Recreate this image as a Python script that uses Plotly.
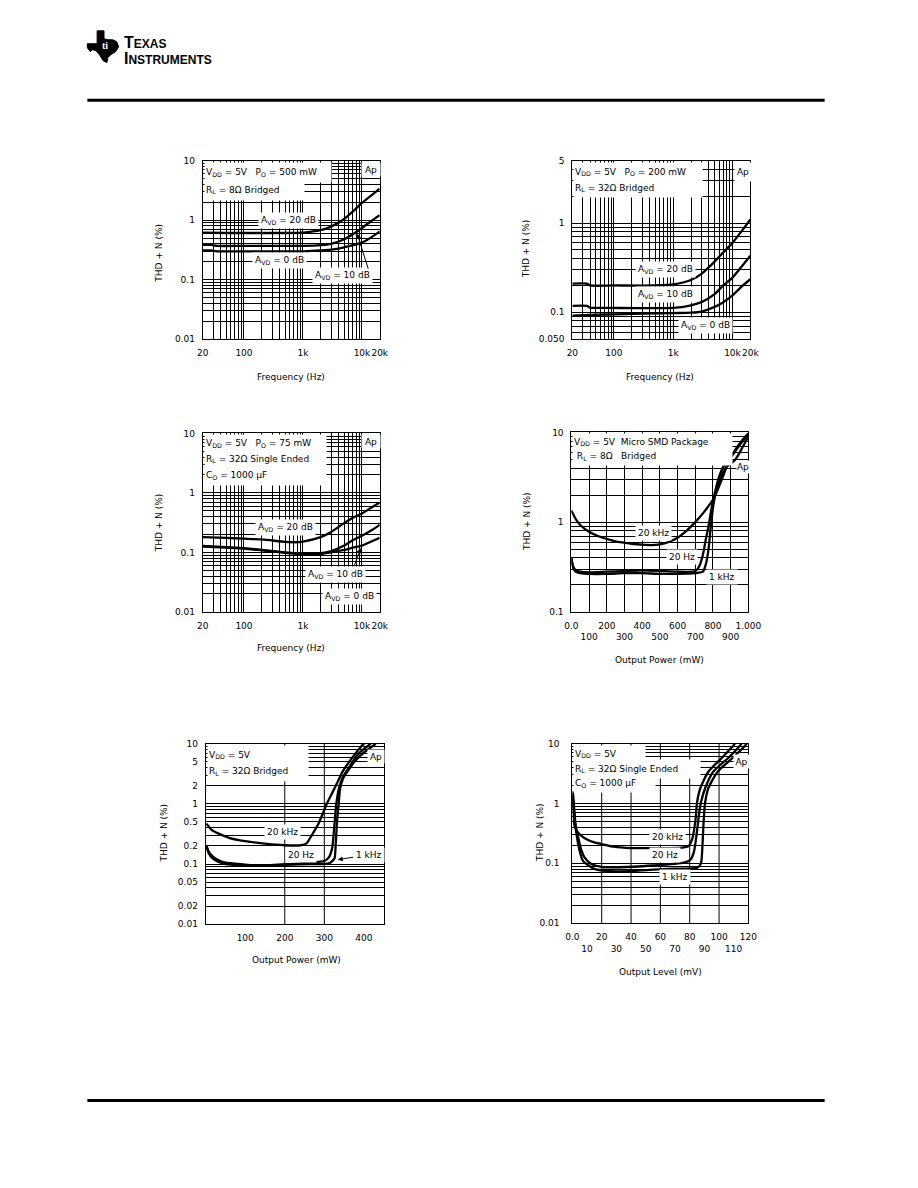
import numpy as np
import plotly.graph_objects as go

# page is 918x1188; the browser adds an 8px body margin, so the figure is sized to fit inside it
PAGE_OFF = 8
W, H = 902, 1170
FONT = "DejaVu Sans"


def px(x):
    return (x - PAGE_OFF) / W


def py(y):
    return 1 - (y - PAGE_OFF) / H


lg = np.log10

# ---------------- data ----------------
# Panel 1: THD+N vs Frequency, VDD=5V, PO=500mW, RL=8 ohm bridged
p1_freq_20db = [20, 50, 100, 200, 500, 1000, 2000, 3000, 5000, 7000, 10000, 15000, 20000]
p1_thd_20db = [0.62, 0.61, 0.61, 0.61, 0.61, 0.62, 0.68, 0.78, 1.05, 1.4, 1.95, 2.7, 3.4]
p1_freq_10db = [20, 28, 35, 100, 1000, 2000, 3000, 5000, 7000, 10000, 15000, 20000]
p1_thd_10db = [0.385, 0.385, 0.37, 0.37, 0.37, 0.38, 0.40, 0.48, 0.58, 0.74, 1.0, 1.22]
p1_freq_0db = [20, 28, 35, 100, 1000, 2000, 3000, 5000, 7000, 10000, 15000, 20000]
p1_thd_0db = [0.31, 0.31, 0.30, 0.30, 0.30, 0.31, 0.32, 0.35, 0.38, 0.42, 0.53, 0.65]

# Panel 2: VDD=5V, PO=200mW, RL=32 ohm bridged
p2_freq_20db = [20, 35, 40, 100, 500, 1000, 2000, 3000, 5000, 7000, 10000, 15000, 20000]
p2_thd_20db = [0.21, 0.21, 0.20, 0.20, 0.20, 0.205, 0.23, 0.27, 0.37, 0.47, 0.6, 0.85, 1.1]
p2_freq_10db = [20, 35, 40, 100, 1000, 2000, 3000, 5000, 7000, 10000, 15000, 20000]
p2_thd_10db = [0.118, 0.118, 0.113, 0.112, 0.112, 0.12, 0.13, 0.16, 0.2, 0.245, 0.34, 0.43]
p2_freq_0db = [20, 50, 100, 1000, 2000, 3000, 5000, 7000, 10000, 15000, 20000]
p2_thd_0db = [0.092, 0.094, 0.095, 0.098, 0.099, 0.102, 0.115, 0.13, 0.155, 0.2, 0.235]

# Panel 3: VDD=5V, PO=75mW, RL=32 ohm single ended, CO=1000uF
p3_freq_20db = [20, 50, 100, 200, 500, 700, 1000, 2000, 3000, 5000, 7000, 10000, 15000, 20000]
p3_thd_20db = [0.18, 0.175, 0.17, 0.165, 0.15, 0.148, 0.152, 0.18, 0.22, 0.31, 0.38, 0.45, 0.58, 0.69]
p3_freq_10db = [20, 50, 100, 200, 500, 1000, 2000, 3000, 5000, 7000, 10000, 15000, 20000]
p3_thd_10db = [0.128, 0.122, 0.118, 0.11, 0.1, 0.095, 0.097, 0.105, 0.13, 0.16, 0.19, 0.24, 0.29]
p3_freq_0db = [20, 50, 100, 200, 500, 1000, 2000, 3000, 5000, 7000, 10000, 15000, 20000]
p3_thd_0db = [0.125, 0.12, 0.116, 0.108, 0.098, 0.092, 0.094, 0.1, 0.11, 0.12, 0.13, 0.155, 0.175]

# Panel 4: THD+N vs Output Power, VDD=5V, micro SMD, RL=8 ohm bridged
p4_pow_20khz = [0, 25, 50, 100, 150, 200, 250, 300, 350, 400, 450, 500, 550, 600, 650, 700, 750, 807, 850, 890, 930, 970, 1000]
p4_thd_20khz = [1.35, 1.08, 0.93, 0.78, 0.7, 0.65, 0.61, 0.59, 0.57, 0.56, 0.555, 0.565, 0.6, 0.67, 0.8, 1.0, 1.3, 1.88, 3.0, 4.8, 6.6, 8.4, 9.8]
p4_pow_20hz = [0, 10, 25, 50, 100, 200, 300, 400, 500, 600, 680, 706, 725, 745, 760, 775, 790, 805, 830, 860, 908, 950, 990, 1000]
p4_thd_20hz = [0.4, 0.32, 0.29, 0.28, 0.275, 0.28, 0.285, 0.29, 0.285, 0.28, 0.28, 0.29, 0.33, 0.45, 0.65, 0.9, 1.35, 1.9, 3.0, 4.2, 5.5, 7.2, 9.0, 9.6]
p4_pow_1khz = [0, 10, 25, 50, 100, 200, 300, 400, 500, 600, 700, 743, 760, 775, 788, 800, 815, 840, 870, 927, 970, 1000]
p4_thd_1khz = [0.39, 0.31, 0.28, 0.27, 0.265, 0.265, 0.27, 0.27, 0.265, 0.265, 0.27, 0.28, 0.34, 0.5, 0.9, 1.45, 2.1, 3.0, 4.0, 5.0, 7.0, 9.0]

# Panel 5: VDD=5V, RL=32 ohm bridged
p5_pow_20khz = [2, 15, 33, 61, 100, 144, 200, 240, 255, 268, 284, 295, 305, 316, 326, 336, 346, 360, 375, 388, 400, 405]
p5_thd_20khz = [0.47, 0.37, 0.32, 0.27, 0.24, 0.22, 0.205, 0.205, 0.22, 0.30, 0.45, 0.66, 0.96, 1.35, 1.81, 2.5, 3.4, 4.7, 6.4, 8.2, 10, 10.5]
p5_pow_20hz = [2, 8, 17, 30, 50, 99, 132, 198, 240, 281, 300, 312, 320, 325, 330, 337, 346, 355, 368, 383, 400, 412, 418]
p5_thd_20hz = [0.2, 0.16, 0.135, 0.118, 0.105, 0.098, 0.094, 0.099, 0.102, 0.108, 0.112, 0.13, 0.186, 0.4, 0.96, 1.81, 2.7, 3.4, 4.6, 6.4, 8.2, 9.4, 10.2]
p5_pow_1khz = [2, 8, 17, 30, 50, 99, 132, 198, 240, 281, 297, 314, 322, 326, 330, 333, 336, 340, 348, 358, 375, 392, 410, 425, 430]
p5_thd_1khz = [0.2, 0.15, 0.125, 0.11, 0.1, 0.095, 0.093, 0.097, 0.099, 0.1, 0.1, 0.104, 0.115, 0.125, 0.3, 0.6, 0.96, 1.81, 2.7, 3.4, 4.9, 6.4, 8.0, 9.4, 10.2]

# Panel 6: VDD=5V, RL=32 ohm single ended, CO=1000uF
p6_lev_20khz = [0.3, 1.5, 3, 6, 10, 15, 20, 28, 40, 54, 67, 76, 79.5, 82, 84, 85, 87.2, 92.7, 102.5, 110, 111]
p6_thd_20khz = [1.3, 0.42, 0.35, 0.29, 0.25, 0.224, 0.21, 0.19, 0.18, 0.18, 0.18, 0.185, 0.196, 0.27, 0.55, 1.03, 1.8, 3.4, 6.0, 9.4, 10.2]
p6_lev_20hz = [0.3, 2, 4, 6, 8.3, 12.7, 21, 32, 54, 76, 80.6, 83, 85, 86.5, 87.6, 90.5, 96, 107, 114.5, 115.5]
p6_thd_20hz = [1.4, 0.45, 0.27, 0.17, 0.126, 0.098, 0.086, 0.086, 0.092, 0.103, 0.115, 0.16, 0.35, 0.7, 1.03, 1.8, 3.4, 6.0, 9.4, 10.2]
p6_lev_1khz = [0.3, 2.8, 5, 7.2, 15, 26, 43, 65, 85, 87.6, 88.7, 89.5, 90.5, 92.7, 99, 110, 118, 119]
p6_thd_1khz = [1.6, 0.31, 0.16, 0.11, 0.081, 0.074, 0.075, 0.081, 0.084, 0.098, 0.2, 0.5, 1.03, 1.8, 3.4, 6.0, 9.4, 10.2]

# tick labels
freq_labels = {20: "20", 100: "100", 1000: "1k", 10000: "10k", 20000: "20k"}
thd_labels_a = {0.01: "0.01", 0.1: "0.1", 1: "1", 10: "10"}
thd_labels_b = {0.05: "0.050", 0.1: "0.1", 1: "1", 5: "5"}
thd_labels_c = {0.1: "0.1", 1: "1", 10: "10"}
thd_labels_d = {0.01: "0.01", 0.02: "0.02", 0.05: "0.05", 0.1: "0.1", 0.2: "0.2",
                0.5: "0.5", 1: "1", 2: "2", 5: "5", 10: "10"}
p4_ticks = [0, 100, 200, 300, 400, 500, 600, 700, 800, 900, 1000]
p4_ticktext = ["0.0", "<br>100", "200", "<br>300", "400", "<br>500", "600", "<br>700", "800", "<br>900", "1.000"]
p5_ticks = [100, 200, 300, 400]
p5_ticktext = ["100", "200", "300", "400"]
p5_grid = [200, 300]
p6_ticks = [0, 10, 20, 30, 40, 50, 60, 70, 80, 90, 100, 110, 120]
p6_ticktext = ["0.0", "<br>10", "20", "<br>30", "40", "<br>50", "60", "<br>70", "80", "<br>90", "100", "<br>110", "120"]
p6_grid = [20, 40, 60, 80, 100]


def log_grid(start, stop):
    vals = []
    for e in range(-3, 6):
        for k in range(1, 10):
            v = round(k * 10 ** e, 6)
            if start * 0.9999 <= v <= stop * 1.0001:
                vals.append(v)
    return vals


def log_ticks(start, stop, labels):
    vals = log_grid(start, stop)
    lab = {round(k, 6): t for k, t in labels.items()}
    return vals, [lab.get(v, "") for v in vals]


# panel plot areas in page pixels: (x0, x1, y0, y1)
areas = {
    1: (200, 381, 157, 337),
    2: (578, 760, 157, 337),
    3: (200, 381, 432, 612),
    4: (577, 758, 431, 612),
    5: (203, 385, 745, 927),
    6: (578, 758, 745, 926),
}

fig = go.Figure()

curve = dict(color="black", width=2.3, shape="spline", smoothing=0.6)
series = {
    1: [(p1_freq_20db, p1_thd_20db), (p1_freq_10db, p1_thd_10db), (p1_freq_0db, p1_thd_0db)],
    2: [(p2_freq_20db, p2_thd_20db), (p2_freq_10db, p2_thd_10db), (p2_freq_0db, p2_thd_0db)],
    3: [(p3_freq_20db, p3_thd_20db), (p3_freq_10db, p3_thd_10db), (p3_freq_0db, p3_thd_0db)],
    4: [(p4_pow_20khz, p4_thd_20khz), (p4_pow_20hz, p4_thd_20hz), (p4_pow_1khz, p4_thd_1khz)],
    5: [(p5_pow_20khz, p5_thd_20khz), (p5_pow_20hz, p5_thd_20hz), (p5_pow_1khz, p5_thd_1khz)],
    6: [(p6_lev_20khz, p6_thd_20khz), (p6_lev_20hz, p6_thd_20hz), (p6_lev_1khz, p6_thd_1khz)],
}
for i, lst in series.items():
    for xs, ys in lst:
        fig.add_trace(go.Scatter(x=xs, y=ys, mode="lines", line=curve,
                                 xaxis="x" if i == 1 else f"x{i}",
                                 yaxis="y" if i == 1 else f"y{i}",
                                 hoverinfo="skip"))

tickfont = dict(family=FONT, size=9, color="black")


def base_axis():
    return dict(showline=True, mirror=True, linecolor="black", linewidth=1,
                ticks="", showgrid=True, gridcolor="black", gridwidth=1,
                zeroline=False, tickfont=tickfont, fixedrange=True)


layout = {}
for i, (x0, x1, y0, y1) in areas.items():
    xk = "xaxis" if i == 1 else f"xaxis{i}"
    yk = "yaxis" if i == 1 else f"yaxis{i}"
    xa = base_axis()
    ya = base_axis()
    xa.update(domain=[px(x0), px(x1)], anchor="y" if i == 1 else f"y{i}", ticklabelstandoff=5)
    ya.update(domain=[py(y1), py(y0)], anchor="x" if i == 1 else f"x{i}", ticklabelstandoff=5)
    if i in (1, 2, 3):
        tv, tt = log_ticks(20, 20000, freq_labels)
        xa.update(type="log", range=[lg(20), lg(20000)], tickvals=tv, ticktext=tt, tickangle=0)
    if i in (1, 3):
        tv, tt = log_ticks(0.01, 10, thd_labels_a)
        ya.update(type="log", range=[-2, 1], tickvals=tv, ticktext=tt)
    if i == 2:
        tv, tt = log_ticks(0.05, 5, thd_labels_b)
        ya.update(type="log", range=[lg(0.05), lg(5)], tickvals=tv, ticktext=tt)
    if i == 4:
        xa.update(range=[0, 1000], tickvals=p4_ticks, ticktext=p4_ticktext, tickangle=0)
        tv, tt = log_ticks(0.1, 10, thd_labels_c)
        ya.update(type="log", range=[-1, 1], tickvals=tv, ticktext=tt)
    if i == 5:
        xa.update(range=[0, 450], tickvals=p5_ticks, ticktext=p5_ticktext, showgrid=False, tickangle=0)
        tv, tt = log_ticks(0.01, 10, thd_labels_d)
        ya.update(type="log", range=[-2, 1], tickvals=tv, ticktext=tt)
    if i == 6:
        xa.update(range=[0, 120], tickvals=p6_ticks, ticktext=p6_ticktext, showgrid=False, tickangle=0)
        tv, tt = log_ticks(0.01, 10, thd_labels_a)
        ya.update(type="log", range=[-2, 1], tickvals=tv, ticktext=tt, ticklabelstandoff=10)
    layout[xk] = xa
    layout[yk] = ya

shapes = []
for g in p5_grid:
    shapes.append(dict(type="line", xref="x5", yref="y5 domain", x0=g, x1=g, y0=0, y1=1,
                       line=dict(color="black", width=1), layer="below"))
for g in p6_grid:
    shapes.append(dict(type="line", xref="x6", yref="y6 domain", x0=g, x1=g, y0=0, y1=1,
                       line=dict(color="black", width=1), layer="below"))

# header / footer rules
shapes.append(dict(type="line", xref="paper", yref="paper", x0=px(82), x1=px(836), y0=py(96), y1=py(96),
                   line=dict(color="black", width=3)))
shapes.append(dict(type="line", xref="paper", yref="paper", x0=px(82), x1=px(836), y0=py(1105), y1=py(1105),
                   line=dict(color="black", width=3)))

# TI logo outline (decorative)
logo_pts = [(92, 26), (99, 26), (99, 34), (103, 35), (108, 35), (112, 37), (114, 42), (111, 47),
            (106, 50), (103, 53), (102, 58), (98, 56), (95, 51), (91, 46), (87, 45), (85, 47),
            (82, 43), (82, 39), (92, 39)]
path = "M " + " L ".join(f"{px(a):.5f},{py(b):.5f}" for a, b in logo_pts) + " Z"
shapes.append(dict(type="path", xref="paper", yref="paper", path=path,
                   fillcolor="black", line=dict(color="black", width=1)))

annotations = []


def ann(**kw):
    d = dict(showarrow=False, font=dict(family=FONT, size=9, color="black"),
             xanchor="center", yanchor="middle")
    d.update(kw)
    annotations.append(d)


# logo text (one two-line block)
ann(x=px(100), y=py(41), xref="paper", yref="paper", text="<b>ti</b>",
    font=dict(family="Liberation Serif", size=10, color="white"))
ann(x=px(117), y=py(46), xref="paper", yref="paper", xanchor="left", align="left",
    text="<b><span style='font-size:16px'>T</span>EXAS<br><span style='font-size:16px'>I</span>NSTRUMENTS</b>",
    font=dict(family="Liberation Sans", size=12, color="black"))

# condition boxes: (text, x_left, x_right, y_top, y_bottom) in page pixels
cond_lines = [
    ("V<sub>DD</sub> = 5V\u00a0\u00a0 P<sub>O</sub> = 500 mW", 201, 327, 158, 175),
    ("R<sub>L</sub> = 8\u03a9 Bridged", 201, 300, 175, 193),
    ("V<sub>DD</sub> = 5V\u00a0\u00a0 P<sub>O</sub> = 200 mW", 579, 707, 158, 174),
    ("R<sub>L</sub> = 32\u03a9 Bridged", 579, 707, 174, 190),
    ("V<sub>DD</sub> = 5V\u00a0\u00a0 P<sub>O</sub> = 75 mW", 201, 322, 433, 448),
    ("R<sub>L</sub> = 32\u03a9 Single Ended", 201, 322, 448, 464),
    ("C<sub>O</sub> = 1000 \u00b5F", 201, 322, 464, 481),
    ("V<sub>DD</sub> = 5V\u00a0\u00a0Micro SMD Package", 578, 737, 432, 446),
    ("\u00a0R<sub>L</sub> = 8\u03a9\u00a0\u00a0 Bridged", 578, 737, 446, 461),
    ("V<sub>DD</sub> = 5V", 204, 304, 746, 762),
    ("R<sub>L</sub> = 32\u03a9 Bridged", 204, 304, 762, 779),
    ("V<sub>DD</sub> = 5V", 579, 650, 746, 760),
    ("R<sub>L</sub> = 32\u03a9 Single Ended", 579, 705, 760, 776),
    ("C<sub>O</sub> = 1000 \u00b5F", 579, 660, 776, 791),
]
for t, xl, xr, yt, yb in cond_lines:
    ann(x=px(xl), y=py(yt), xref="paper", yref="paper", xanchor="left", yanchor="top",
        text=t, align="left", valign="middle", width=xr - xl - 2, height=yb - yt,
        bgcolor="white", borderpad=1)

# "Ap" tags
ap_boxes = [(362, 380, 158, 171), (743, 759, 158, 176), (362, 380, 433, 446),
            (745, 757, 459, 471), (368, 384, 750, 763), (742, 757, 755, 768)]
for xl, xr, yt, yb in ap_boxes:
    ann(x=px(xl), y=py(yt), xref="paper", yref="paper", xanchor="left", yanchor="top",
        text="Ap", align="center", valign="middle", width=xr - xl, height=yb - yt,
        bgcolor="white", borderpad=0)

box = dict(bgcolor="white", borderpad=2)
# panel 1 labels
ann(x=lg(575), y=lg(1.0), xref="x", yref="y", text="A<sub>VD</sub> = 20 dB", **box)
ann(x=lg(393), y=lg(0.207), xref="x", yref="y", text="A<sub>VD</sub> = 0 dB", **box)
ann(x=lg(4700), y=lg(0.117), xref="x", yref="y", text="A<sub>VD</sub> = 10 dB", **box)
annotations.append(dict(x=lg(8300), y=lg(0.59), ax=lg(13000), ay=lg(0.145), xref="x", yref="y",
                        axref="x", ayref="y", text="", showarrow=True, arrowhead=2, arrowsize=1,
                        arrowwidth=1, arrowcolor="black"))
# panel 2 labels
ann(x=lg(737), y=lg(0.30), xref="x2", yref="y2", text="A<sub>VD</sub> = 20 dB", **box)
ann(x=lg(737), y=lg(0.159), xref="x2", yref="y2", text="A<sub>VD</sub> = 10 dB", **box)
ann(x=lg(3500), y=lg(0.071), xref="x2", yref="y2", text="A<sub>VD</sub> = 0 dB", **box)
# panel 3 labels
ann(x=lg(514), y=lg(0.264), xref="x3", yref="y3", text="A<sub>VD</sub> = 20 dB", **box)
ann(x=lg(3600), y=lg(0.043), xref="x3", yref="y3", text="A<sub>VD</sub> = 10 dB", **box)
ann(x=lg(6100), y=lg(0.018), xref="x3", yref="y3", text="A<sub>VD</sub> = 0 dB", **box)
annotations.append(dict(x=lg(9500), y=lg(0.118), ax=lg(7200), ay=lg(0.055), xref="x3", yref="y3",
                        axref="x3", ayref="y3", text="", showarrow=True, arrowhead=2, arrowsize=1,
                        arrowwidth=1, arrowcolor="black"))
# panel 4 labels
ann(x=463, y=lg(0.75), xref="x4", yref="y4", text="20 kHz", **box)
ann(x=623, y=lg(0.41), xref="x4", yref="y4", text="20 Hz", **box)
ann(x=850, y=lg(0.245), xref="x4", yref="y4", text="1 kHz", **box)
# panel 5 labels
ann(x=195, y=lg(0.34), xref="x5", yref="y5", text="20 kHz", **box)
ann(x=242, y=lg(0.143), xref="x5", yref="y5", text="20 Hz", **box)
annotations.append(dict(x=334, y=lg(0.118), ax=412, ay=lg(0.143), xref="x5", yref="y5",
                        axref="x5", ayref="y5", text="1 kHz", showarrow=True, arrowhead=2,
                        arrowsize=1, arrowwidth=1, arrowcolor="black", bgcolor="white", borderpad=2,
                        font=dict(family=FONT, size=9, color="black")))
# panel 6 labels
ann(x=65, y=lg(0.28), xref="x6", yref="y6", text="20 kHz", **box)
ann(x=63, y=lg(0.14), xref="x6", yref="y6", text="20 Hz", **box)
ann(x=70, y=lg(0.059), xref="x6", yref="y6", text="1 kHz", **box)

# axis titles
xtitles = [("Frequency (Hz)", 290, 375), ("Frequency (Hz)", 668, 375), ("Frequency (Hz)", 290, 648),
           ("Output Power (mW)", 667, 661), ("Output Power (mW)", 296, 963), ("Output Level (mV)", 668, 975)]
for t, x, y in xtitles:
    ann(x=px(x), y=py(y), xref="paper", yref="paper", text=t)
ytitles = [(155, 250), (531, 246), (155, 522), (531, 521), (160, 835), (545, 835)]
for x, y in ytitles:
    ann(x=px(x), y=py(y), xref="paper", yref="paper", text="THD + N (%)", textangle=-90)

fig.update_layout(width=W, height=H, margin=dict(l=0, r=0, t=0, b=0), autosize=False,
                  paper_bgcolor="white", plot_bgcolor="white", showlegend=False,
                  shapes=shapes, annotations=annotations, **layout)

fig.write_html("out.html", config={"displayModeBar": False, "responsive": False})
